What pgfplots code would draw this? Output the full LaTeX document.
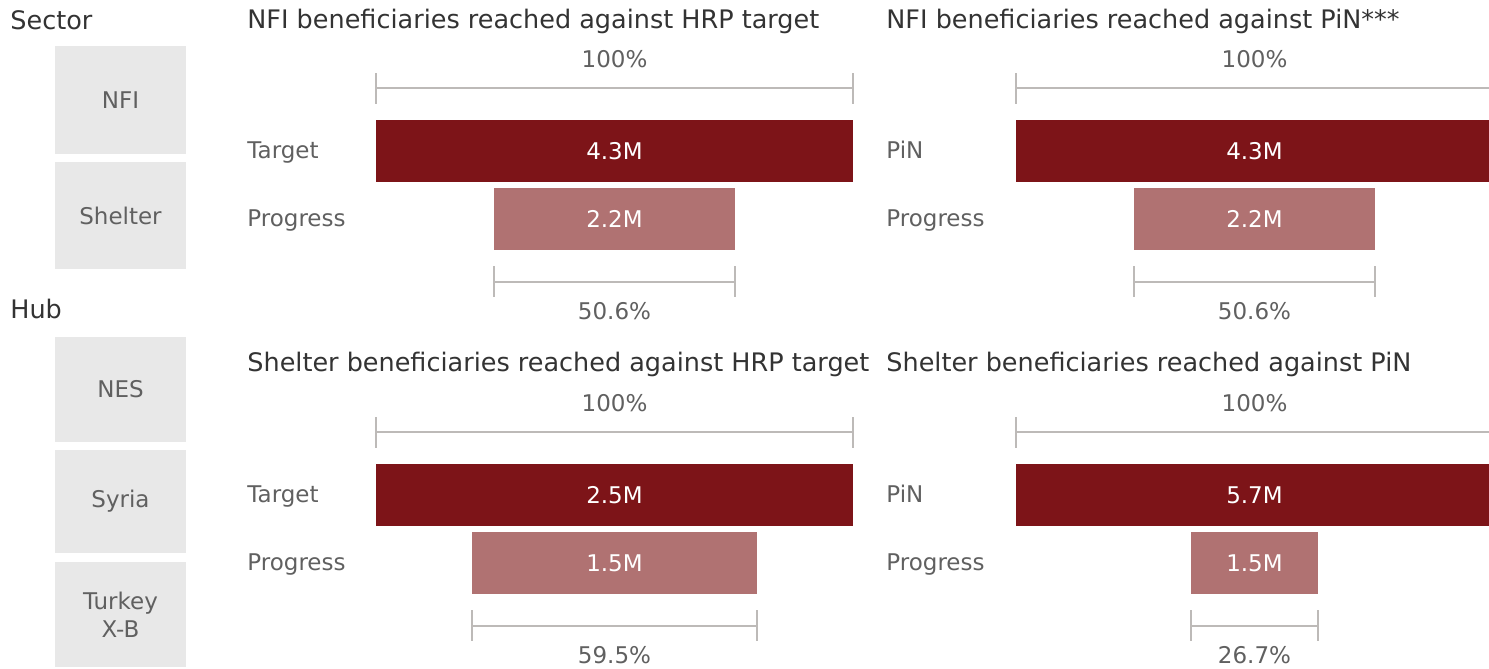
\documentclass[border=0pt]{standalone}
\usepackage{fontspec}
\setmainfont{DejaVu Sans}
\usepackage{pgfplots}
\pgfplotsset{compat=1.18}

\definecolor{darkred}{HTML}{7D1418}
\definecolor{lightred}{HTML}{B07272}
\definecolor{boxgray}{HTML}{E8E8E8}
\definecolor{textgray}{HTML}{606060}
\definecolor{titlegray}{HTML}{333333}
\definecolor{bracketgray}{HTML}{BDBAB8}

\newcommand\titlefont{\fontsize{12.75}{15}\selectfont}
\newcommand\labfont{\fontsize{11.5}{14}\selectfont}

\pgfplotsset{
  panel/.style={
    xbar stacked, bar width=31pt,
    scale only axis, width=238.5pt, height=68pt,
    ymin=-0.5, ymax=1.5, xmin=0,
    hide axis, clip=false, anchor=south west,
  },
}
\tikzset{
  bracket/.style={draw=bracketgray, line width=1pt},
  barlab/.style={text=white, font=\labfont, anchor=center},
  pctlab/.style={text=textgray, font=\labfont, anchor=center},
}

% one panel: #1 position (pt), #2 total, #3 progress, #4 offset, #5 total label, #6 progress label, #7 percent
\newcommand\panel[7]{%
  \begin{axis}[panel, at={#1}, xmax=#2]
    \addplot[draw=none, fill=none] coordinates {(#4,0) (0,1)};
    \addplot[draw=none, fill=lightred] coordinates {(#3,0) (0,1)};
    \addplot[draw=none, fill=darkred] coordinates {(0,0) (#2,1)};
    % 100% bracket
    \draw[bracket] (axis cs:0,1.92) -- (axis cs:#2,1.92);
    \draw[bracket] (axis cs:0,1.692) -- (axis cs:0,2.148);
    \draw[bracket] (axis cs:#2,1.692) -- (axis cs:#2,2.148);
    \node[pctlab] at (axis cs:#2/2,2.353) {100\%};
    % progress bracket
    \draw[bracket] (axis cs:#4,-0.92) -- (axis cs:#4+#3,-0.92);
    \draw[bracket] (axis cs:#4,-0.692) -- (axis cs:#4,-1.148);
    \draw[bracket] (axis cs:#4+#3,-0.692) -- (axis cs:#4+#3,-1.148);
    \node[pctlab] at (axis cs:#2/2,-1.353) {#7};
    \coordinate (toplab) at (axis cs:#2/2,1);
    \coordinate (botlab) at (axis cs:#2/2,0);
  \end{axis}
  \node[barlab] at (toplab) {#5};
  \node[barlab] at (botlab) {#6};}

\begin{document}
\begin{tikzpicture}[x=0.5pt, y=-0.5pt]
\path[use as bounding box] (0,0) rectangle (1489,669);

% left side: sector and hub boxes
\node[anchor=base west, inner sep=0, text=titlegray, font=\titlefont] at (10,29) {Sector};
\node[anchor=base west, inner sep=0, text=titlegray, font=\titlefont] at (10,318) {Hub};
\fill[boxgray] (55,46) rectangle (186,154);
\fill[boxgray] (55,162) rectangle (186,269);
\fill[boxgray] (55,337) rectangle (186,442);
\fill[boxgray] (55,450) rectangle (186,553);
\fill[boxgray] (55,562) rectangle (186,667);
\node[text=textgray, font=\labfont] at (120.5,100) {NFI};
\node[text=textgray, font=\labfont] at (120.5,215.5) {Shelter};
\node[text=textgray, font=\labfont] at (120.5,389.5) {NES};
\node[text=textgray, font=\labfont] at (120.5,501.5) {Syria};
\node[text=textgray, font=\labfont, align=center] at (120.5,614.5) {Turkey\\X-B};

% titles
\node[anchor=base west, inner sep=0, text=titlegray, font=\titlefont] at (247,28) {NFI beneficiaries reached against HRP target};
\node[anchor=base west, inner sep=0, text=titlegray, font=\titlefont] at (886,28) {NFI beneficiaries reached against PiN***};
\node[anchor=base west, inner sep=0, text=titlegray, font=\titlefont] at (247,371) {Shelter beneficiaries reached against HRP target};
\node[anchor=base west, inner sep=0, text=titlegray, font=\titlefont] at (886,371) {Shelter beneficiaries reached against PiN};

% row labels
\node[anchor=base west, inner sep=0, text=textgray, font=\labfont] at (247,158) {Target};
\node[anchor=base west, inner sep=0, text=textgray, font=\labfont] at (247,226) {Progress};
\node[anchor=base west, inner sep=0, text=textgray, font=\labfont] at (886,158) {PiN};
\node[anchor=base west, inner sep=0, text=textgray, font=\labfont] at (886,226) {Progress};
\node[anchor=base west, inner sep=0, text=textgray, font=\labfont] at (247,502) {Target};
\node[anchor=base west, inner sep=0, text=textgray, font=\labfont] at (247,570) {Progress};
\node[anchor=base west, inner sep=0, text=textgray, font=\labfont] at (886,502) {PiN};
\node[anchor=base west, inner sep=0, text=textgray, font=\labfont] at (886,570) {Progress};

% panels
\panel{(188pt,-126.5pt)}{4.3}{2.18}{1.06}{4.3M}{2.2M}{50.6\%}
\panel{(508pt,-126.5pt)}{4.3}{2.18}{1.06}{4.3M}{2.2M}{50.6\%}
\panel{(188pt,-298.5pt)}{2.5}{1.49}{0.505}{2.5M}{1.5M}{59.5\%}
\panel{(508pt,-298.5pt)}{5.7}{1.52}{2.09}{5.7M}{1.5M}{26.7\%}
\end{tikzpicture}
\end{document}
